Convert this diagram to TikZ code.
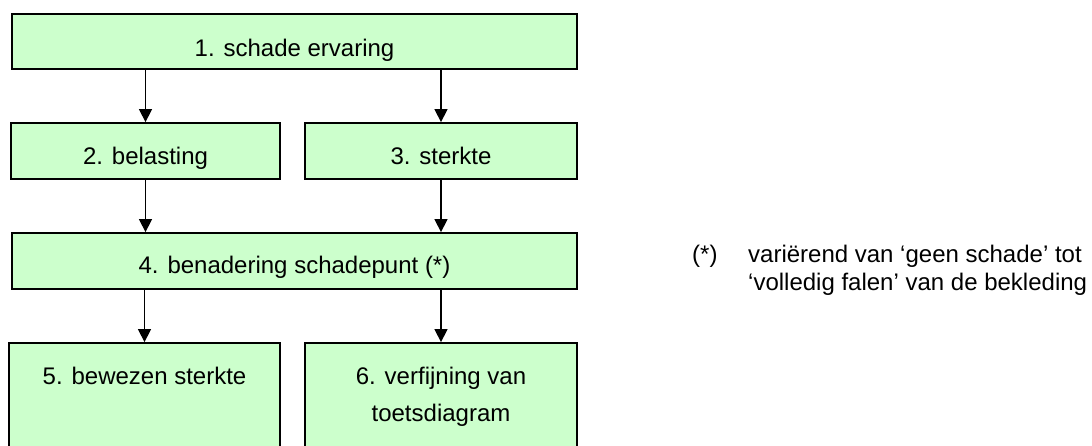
\documentclass[tikz,border=0pt]{standalone}
\usepackage{fontspec}
\setmainfont{Liberation Sans}
\usetikzlibrary{arrows.meta}

\definecolor{stapgroen}{HTML}{CCFFCC}

\tikzset{
  stap/.style={draw=black, line width=1.8pt, fill=stapgroen, inner sep=0pt},
  tekst/.style={anchor=base, inner sep=0pt, font=\fontsize{24}{28}\selectfont},
  pijl/.style={line width=1.5pt, -{Triangle[length=13pt,width=13pt]}},
}

\begin{document}
\begin{tikzpicture}[x=1pt,y=1pt,line join=miter]
  \clip (0,0) rectangle (1092,446);

  % de stappen
  \node[stap, minimum width=565pt, minimum height=55pt] (b1) at (294.5,404.5) {};
  \node[stap, minimum width=269pt, minimum height=56pt] (b2) at (145.5,295) {};
  \node[stap, minimum width=272pt, minimum height=56pt] (b3) at (441,295) {};
  \node[stap, minimum width=565pt, minimum height=56pt] (b4) at (294.5,185) {};
  \node[stap, minimum width=271pt, minimum height=110pt] (b5) at (144.5,48) {};
  \node[stap, minimum width=272pt, minimum height=110pt] (b6) at (441,48) {};

  \node[tekst] (t1) at ([yshift=-43pt]b1.north) {1. schade ervaring};
  \node[tekst] (t2) at ([yshift=-42pt]b2.north) {2. belasting};
  \node[tekst] (t3) at ([yshift=-42pt]b3.north) {3. sterkte};
  \node[tekst] (t4) at ([yshift=-41pt]b4.north) {4. benadering schadepunt (*)};
  \node[tekst] (t5) at ([yshift=-42pt]b5.north) {5. bewezen sterkte};
  % meerregelig: base ligt op de laatste regel
  \node[tekst, align=center, font=\fontsize{24}{37}\selectfont] (t6)
    at ([yshift=-79pt]b6.north) {6. verfijning van\\toetsdiagram};

  % pijlen
  \draw[pijl] (b1.south -| b2.north) -- (b2.north);
  \draw[pijl] (b1.south -| b3.north) -- (b3.north);
  \draw[pijl] (b2.south) -- (b2.south |- b4.north);
  \draw[pijl] (b3.south) -- (b3.south |- b4.north);
  \draw[pijl] (b4.south -| b5.north) -- (b5.north);
  \draw[pijl] (b4.south -| b6.north) -- (b6.north);

  % voetnoot
  \node[tekst, anchor=base west] (ster) at (692,183) {(*)};
  \node[tekst, anchor=base west, align=left] (noot) at (748,155)
    {variërend van ‘geen schade’ tot\\‘volledig falen’ van de bekleding};
\end{tikzpicture}
\end{document}
